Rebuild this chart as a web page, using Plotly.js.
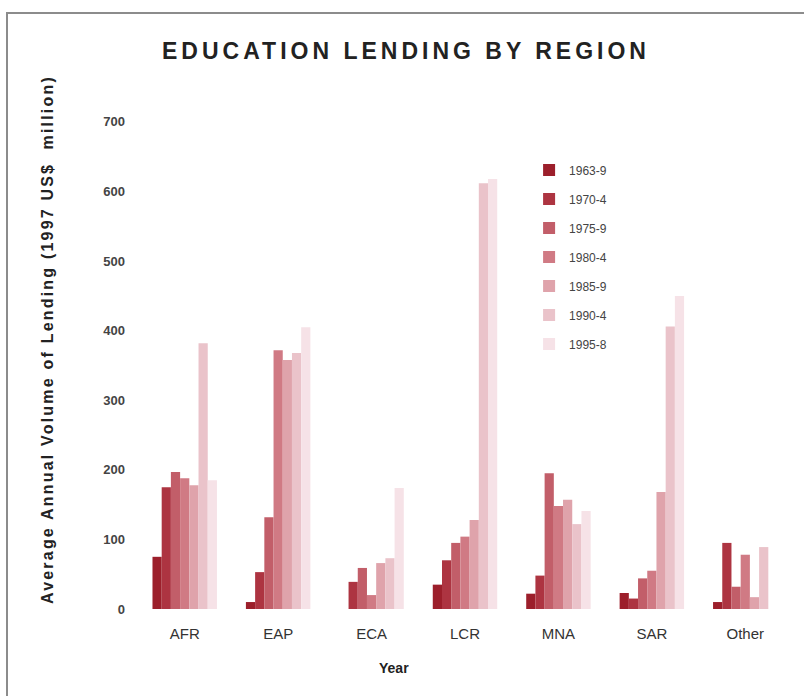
<!DOCTYPE html>
<html><head><meta charset="utf-8">
<script src="https://cdn.plot.ly/plotly-3.0.1.min.js"></script>
<style>
body{margin:0;background:#fff;}
#wrap{position:relative;width:804px;height:696px;overflow:hidden;}
#chart{width:804px;height:696px;}
#frame{position:absolute;left:6px;top:12px;width:830px;height:720px;border-left:2px solid #8c8c8c;border-top:2px solid #8c8c8c;pointer-events:none;}
.gtitle{letter-spacing:4px;}
</style></head>
<body>
<div id="wrap"><div id="chart"></div><div id="frame"></div></div>
<script>
const regions = ['AFR','EAP','ECA','LCR','MNA','SAR','Other'];
const periods = ['1963-9','1970-4','1975-9','1980-4','1985-9','1990-4','1995-8'];
const v1963_9 = [75, 10, 0, 35, 22, 23, 10];
const v1970_4 = [175, 53, 39, 70, 48, 15, 95];
const v1975_9 = [197, 132, 59, 95, 195, 44, 32];
const v1980_4 = [188, 372, 20, 104, 148, 55, 78];
const v1985_9 = [178, 358, 66, 128, 157, 168, 17];
const v1990_4 = [382, 368, 73, 612, 122, 406, 89];
const v1995_8 = [185, 405, 174, 618, 141, 450, 0];
const yTicks = [0,100,200,300,400,500,600,700];

const series = [v1963_9, v1970_4, v1975_9, v1980_4, v1985_9, v1990_4, v1995_8];
const colors = ['#9c1f2b','#ad3441','#c25e69','#d07a84','#dfa3ab','#eac3ca','#f6e2e7'];

const traces = series.map((vals, i) => ({
  type: 'bar', x: regions, y: vals, name: periods[i],
  marker: {color: colors[i], line: {width: 0}},
  legendgroup: 'g' + i, hoverinfo: 'x+y+name'
}));

const layout = {
  width: 804, height: 696,
  margin: {l: 138, r: 12, t: 108, b: 87},
  paper_bgcolor: '#ffffff', plot_bgcolor: '#ffffff',
  barmode: 'group', bargap: 0.31, bargroupgap: 0,
  font: {family: 'Liberation Sans, Arial, sans-serif', color: '#333'},
  title: {
    text: '<b>EDUCATION LENDING BY REGION</b>',
    font: {size: 23, color: '#222', family: 'Liberation Sans, Arial, sans-serif'},
    x: 0.505, xref: 'container', xanchor: 'center',
    y: 1 - 51/696, yref: 'container', yanchor: 'middle'
  },
  xaxis: {
    type: 'category', showgrid: false, zeroline: false, showline: false,
    ticks: '', ticklabelstandoff: 14,
    tickfont: {size: 15, color: '#333'}
  },
  yaxis: {
    range: [0, 720], showgrid: false, zeroline: false, showline: false,
    ticks: '', tickvals: yTicks, ticktext: yTicks.map(String), ticklabelstandoff: 12,
    tickfont: {size: 13, color: '#444', weight: 'bold'}
  },
  legend: {
    x: 0.598, xanchor: 'left', y: 0.905, yanchor: 'top',
    bgcolor: 'rgba(0,0,0,0)', borderwidth: 0,
    font: {size: 12, color: '#444'},
    tracegroupgap: 10, traceorder: 'grouped'
  },
  annotations: [
    {
      text: '<b><span style="letter-spacing:2.2px">Average Annual Volume of Lending (1997 US$  million)</span></b>',
      textangle: -90, xref: 'paper', yref: 'paper',
      x: (47 - 138) / 654, y: (609 - 340) / 501, xanchor: 'center', yanchor: 'middle',
      showarrow: false, font: {size: 16, color: '#222'}
    },
    {
      text: '<b>Year</b>', xref: 'paper', yref: 'paper',
      x: (394 - 138) / 654, y: (609 - 668) / 501, xanchor: 'center', yanchor: 'middle',
      showarrow: false, font: {size: 14, color: '#222'}
    }
  ],
  showlegend: true
};

Plotly.newPlot('chart', traces, layout, {displayModeBar: false, staticPlot: true});
</script>
</body></html>
